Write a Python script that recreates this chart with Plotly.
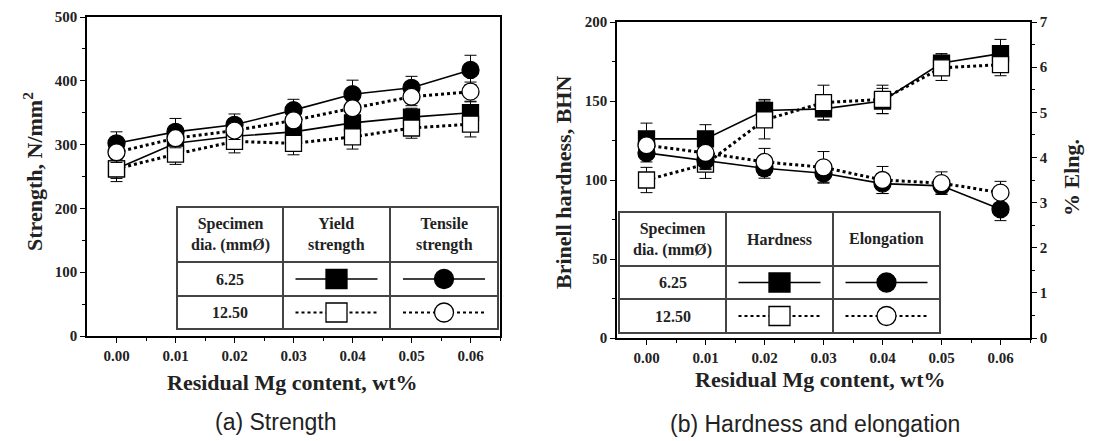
import plotly.graph_objects as go

# ---------------- data ----------------
mg = [0.00, 0.01, 0.02, 0.03, 0.04, 0.05, 0.06]
x_tick_vals = [0.00, 0.01, 0.02, 0.03, 0.04, 0.05, 0.06]
x_tick_text = ["0.00", "0.01", "0.02", "0.03", "0.04", "0.05", "0.06"]

# (a) Strength, N/mm2
yield_625 = [262, 302, 313, 320, 334, 343, 350]
yield_625_err = [15, 15, 14, 15, 15, 14, 17]
yield_1250 = [262, 285, 305, 302, 312, 326, 332]
yield_1250_err = [20, 16, 18, 18, 19, 16, 20]
tensile_625 = [302, 320, 331, 354, 379, 389, 417]
tensile_625_err = [18, 21, 17, 17, 22, 18, 23]
tensile_1250 = [288, 310, 322, 338, 357, 375, 383]
tensile_1250_err = [16, 15, 14, 16, 15, 14, 15]

# (b) Hardness (BHN) and elongation (%)
hard_625 = [126, 126, 144, 145, 150, 174, 180]
hard_625_err = [10, 9, 7, 7, 8, 6, 9]
hard_1250 = [100, 110, 138, 149, 151, 171, 173]
hard_1250_err = [8, 9, 12, 11, 9, 8, 7]
elong_625 = [4.10, 3.93, 3.76, 3.65, 3.42, 3.37, 2.85]
elong_625_err = [0.20, 0.20, 0.22, 0.20, 0.22, 0.18, 0.25]
elong_1250 = [4.27, 4.10, 3.90, 3.78, 3.50, 3.43, 3.22]
elong_1250_err = [0.25, 0.35, 0.30, 0.35, 0.30, 0.25, 0.25]

W, H = 1093, 441
SERIF = "Liberation Serif"
SANS = "Liberation Sans"

fig = go.Figure()


def add_series(y, err, xa, ya, symbol, filled):
    solid = filled
    fig.add_trace(go.Scatter(
        x=mg, y=y, xaxis=xa, yaxis=ya, mode="lines+markers",
        line=dict(color="black", width=1.6 if solid else 3,
                  dash="solid" if solid else "dot"),
        marker=dict(symbol=symbol, size=17 if symbol == "circle" else 16,
                    color="black" if filled else "white",
                    line=dict(color="black", width=1.3)),
        error_y=dict(type="data", array=err, color="black",
                     thickness=1, width=6),
        showlegend=False, hoverinfo="x+y"))


# filled (6.25) first, open (12.50) on top
add_series(yield_625, yield_625_err, "x", "y", "square", True)
add_series(tensile_625, tensile_625_err, "x", "y", "circle", True)
add_series(yield_1250, yield_1250_err, "x", "y", "square", False)
add_series(tensile_1250, tensile_1250_err, "x", "y", "circle", False)

add_series(hard_625, hard_625_err, "x2", "y2", "square", True)
add_series(elong_625, elong_625_err, "x2", "y3", "circle", True)
add_series(hard_1250, hard_1250_err, "x2", "y2", "square", False)
add_series(elong_1250, elong_1250_err, "x2", "y3", "circle", False)

tickfont = dict(family=SERIF, size=15, color="#222", weight="bold")
axcommon = dict(showline=True, linecolor="black", linewidth=1.6,
                ticks="outside", ticklen=5, tickwidth=1.3, tickcolor="black",
                showgrid=False, zeroline=False, tickfont=tickfont,
                automargin=False)
xcommon = dict(range=[-0.005, 0.065], tickvals=x_tick_vals, ticktext=x_tick_text,
               minor=dict(tickvals=[-0.005 + 0.01 * i for i in range(1, 7)] + [0.065],
                          ticklen=3, ticks="outside", tickcolor="black"),
               mirror=True, **axcommon)

fig.update_layout(
    width=W, height=H, margin=dict(l=0, r=0, t=0, b=0, autoexpand=False),
    paper_bgcolor="white", plot_bgcolor="white",
    xaxis=dict(domain=[87 / W, 500 / W], anchor="y", **xcommon),
    yaxis=dict(domain=[1 - 336 / H, 1 - 17 / H], anchor="x", range=[0, 500],
               dtick=100, mirror=True,
               minor=dict(dtick=50, ticklen=3, ticks="outside", tickcolor="black"),
               **axcommon),
    xaxis2=dict(domain=[617 / W, 1030 / W], anchor="y2", **xcommon),
    yaxis2=dict(domain=[1 - 338 / H, 1 - 22 / H], anchor="x2", range=[0, 200],
                dtick=50,
                minor=dict(dtick=25, ticklen=3, ticks="outside", tickcolor="black"),
                **axcommon),
    yaxis3=dict(overlaying="y2", side="right", anchor="x2", range=[0, 7], dtick=1,
                minor=dict(dtick=0.5, ticklen=3, ticks="outside", tickcolor="black"),
                **axcommon),
)


def px(x):
    return x / W


def py(y):
    return 1 - y / H


shapes = []
annotations = []

titlefont = dict(family=SERIF, size=22, color="#222", weight="bold")
annotations += [
    dict(x=px(33), y=py(172), text="Strength, N/mm<sup>2</sup>", textangle=-90,
         font=titlefont),
    dict(x=px(292), y=py(382), text="Residual Mg content, wt%", font=titlefont),
    dict(x=px(563), y=py(183), text="Brinell hardness, BHN", textangle=-90,
         font=titlefont),
    dict(x=px(1072), y=py(178), text="% Elng.", textangle=-90, font=titlefont),
    dict(x=px(820), y=py(379), text="Residual Mg content, wt%", font=titlefont),
    dict(x=px(275), y=py(422), text="(a) Strength",
         font=dict(family=SANS, size=23, color="#222")),
    dict(x=px(815), y=py(424), text="(b) Hardness and elongation",
         font=dict(family=SANS, size=23, color="#222")),
]

tab_color = "#444"
tabfont = dict(family=SERIF, size=16, color="#222", weight="bold")


def table(xs, ys, headers, rows_text):
    x0, x1 = xs[0], xs[-1]
    y0, y1 = ys[0], ys[-1]
    shapes.append(dict(type="rect", xref="paper", yref="paper",
                       x0=px(x0), x1=px(x1), y0=py(y0), y1=py(y1),
                       line=dict(color=tab_color, width=2), fillcolor="white",
                       layer="above"))
    for xv in xs[1:-1]:
        shapes.append(dict(type="line", xref="paper", yref="paper",
                           x0=px(xv), x1=px(xv), y0=py(y0), y1=py(y1),
                           line=dict(color=tab_color, width=2), layer="above"))
    for yv in ys[1:-1]:
        shapes.append(dict(type="line", xref="paper", yref="paper",
                           x0=px(x0), x1=px(x1), y0=py(yv), y1=py(yv),
                           line=dict(color=tab_color, width=2), layer="above"))
    for i, t in enumerate(headers):
        cx = (xs[i] + xs[i + 1]) / 2
        cy = (ys[0] + ys[1]) / 2
        annotations.append(dict(x=px(cx), y=py(cy), text=t, font=tabfont,
                                showarrow=False))
    for r, t in enumerate(rows_text):
        cx = (xs[0] + xs[1]) / 2
        cy = (ys[r + 1] + ys[r + 2]) / 2
        annotations.append(dict(x=px(cx), y=py(cy), text=t, font=tabfont,
                                showarrow=False))
    for c in (1, 2):
        cx = (xs[c] + xs[c + 1]) / 2
        for r in (0, 1):
            cy = (ys[r + 1] + ys[r + 2]) / 2
            filled = r == 0
            shapes.append(dict(type="line", xref="paper", yref="paper",
                               x0=px(cx - 41), x1=px(cx + 41), y0=py(cy), y1=py(cy),
                               line=dict(color="black", width=1.5 if filled else 2.2,
                                         dash="solid" if filled else "dot"),
                               layer="above"))
            kind = "rect" if c == 1 else "circle"
            hw, hh = (10.5, 9.5) if kind == "rect" else (9.5, 9.5)
            shapes.append(dict(type=kind, xref="paper", yref="paper",
                               x0=px(cx - hw), x1=px(cx + hw),
                               y0=py(cy - hh), y1=py(cy + hh),
                               line=dict(color="black", width=1.3),
                               fillcolor="black" if filled else "white",
                               layer="above"))


table([177, 283, 390, 498], [207, 262, 296, 329],
      ["Specimen<br>dia. (mmØ)", "Yield<br>strength", "Tensile<br>strength"],
      ["6.25", "12.50"])
table([619, 726, 833, 940], [212, 266, 299, 333],
      ["Specimen<br>dia. (mmØ)", "Hardness", "Elongation"],
      ["6.25", "12.50"])

for a in annotations:
    a.setdefault("xref", "paper")
    a.setdefault("yref", "paper")
    a.setdefault("showarrow", False)
    a.setdefault("xanchor", "center")
    a.setdefault("yanchor", "middle")

fig.update_layout(shapes=shapes, annotations=annotations)
fig.write_html("out.html", config={"displayModeBar": False},
               post_script="document.body.style.margin='0';document.body.style.overflow='hidden';")
